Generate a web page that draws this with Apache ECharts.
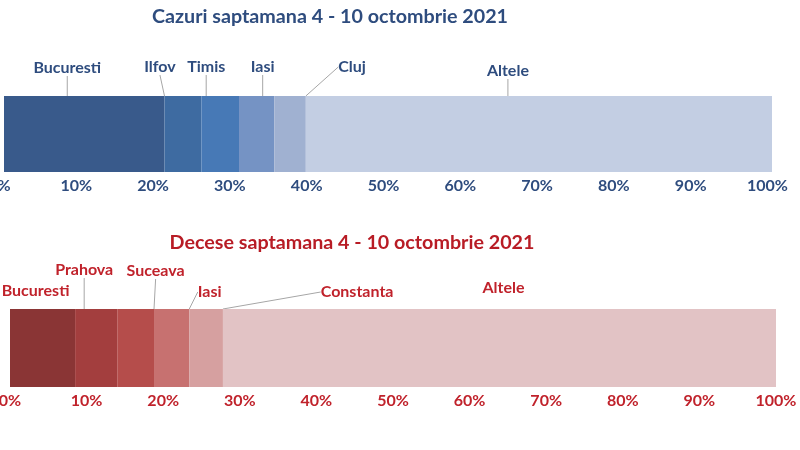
<!DOCTYPE html>
<html>
<head>
<meta charset="utf-8">
<script src="https://cdn.jsdelivr.net/npm/echarts@6/dist/echarts.min.js"></script>
<style>
  html, body { margin: 0; padding: 0; background: #fff; }
  #main { width: 800px; height: 450px; }
</style>
</head>
<body>
<div id="main"></div>
<script>
// date: ponderea judetelor, saptamana 4 - 10 octombrie 2021 (procente)
var casesRegions = ['Bucuresti', 'Ilfov', 'Timis', 'Iasi', 'Cluj', 'Altele'];
var casesShares = [20.9, 4.8, 4.9, 4.6, 4.1, 60.7];

var deathsRegions = ['Bucuresti', 'Prahova', 'Suceava', 'Iasi', 'Constanta', 'Altele'];
var deathsShares = [8.5, 5.5, 4.8, 4.6, 4.4, 72.2];

var tickValues = [0, 10, 20, 30, 40, 50, 60, 70, 80, 90, 100];

// stil
var blueText = '#2e4c7e';
var redText = '#c0222b';
var blueColors = ['#395a8b', '#3e6ba1', '#4779b6', '#7593c4', '#a0b1d1', '#c3cee3'];
var redColors = ['#8a3535', '#a33e3e', '#b54d4b', '#c77170', '#d6a0a0', '#e2c3c5'];

// deplasarea etichetelor fata de pozitia implicita (deasupra segmentului)
var casesShift = [[-17, -15], [-23, -16], [-14, -16], [6, -16], [62, -16], [-31, -12]];
var deathsShift = [[-7, -5], [-12, -26], [20, -25], [38, -4], [151, -4], [4, -8]];
var deathsLine = [false, true, true, true, true, false];

var myChart = echarts.init(document.getElementById('main'));

function makeAxis(gridIndex, color, pad) {
    return {
        type: 'value',
        gridIndex: gridIndex,
        min: tickValues[0],
        max: tickValues[tickValues.length - 1],
        interval: tickValues[1] - tickValues[0],
        axisLine: { show: false },
        axisTick: { show: false },
        splitLine: { show: false },
        axisLabel: {
            margin: 6,
            color: color,
            fontFamily: 'Lato',
            fontWeight: 'bold',
            fontSize: 16,
            padding: pad,
            showMinLabel: true,
            showMaxLabel: true,
            hideOverlap: false,
            formatter: '{value}%'
        }
    };
}

function makeSeries(names, values, colors, shifts, lines, idx, textColor) {
    return names.map(function (name, i) {
        return {
            name: name,
            type: 'bar',
            stack: 'total' + idx,
            xAxisIndex: idx,
            yAxisIndex: idx,
            barWidth: '100%',
            data: [values[i]],
            itemStyle: { color: colors[i] },
            label: {
                show: true,
                position: 'top',
                distance: 5,
                formatter: name,
                color: textColor,
                fontFamily: 'Lato',
                fontWeight: 'bold',
                fontSize: 16
            },
            labelLayout: { dx: shifts[i][0], dy: shifts[i][1] },
            labelLine: {
                show: lines ? lines[i] : true,
                lineStyle: { color: '#a6a6a6', width: 1 }
            }
        };
    });
}

var option = {
    animation: false,
    title: [{
        text: 'Cazuri saptamana 4 - 10 octombrie 2021',
        left: 330,
        top: 7,
        textAlign: 'center',
        padding: 0,
        textStyle: { color: blueText, fontFamily: 'Lato', fontWeight: 'bold', fontSize: 19.7 }
    }, {
        text: 'Decese saptamana 4 - 10 octombrie 2021',
        left: 352,
        top: 233,
        textAlign: 'center',
        padding: 0,
        textStyle: { color: '#b81c25', fontFamily: 'Lato', fontWeight: 'bold', fontSize: 19.7 }
    }],
    grid: [
        { left: 4, width: 768, top: 96, height: 76, outerBoundsMode: 'none', containLabel: false },
        { left: 10, width: 766, top: 309, height: 78, outerBoundsMode: 'none', containLabel: false }
    ],
    xAxis: [
        makeAxis(0, blueText, [0, 9, 0, 0]),
        makeAxis(1, redText, 0)
    ],
    yAxis: [
        { type: 'category', gridIndex: 0, data: ['Cazuri'], show: false },
        { type: 'category', gridIndex: 1, data: ['Decese'], show: false }
    ],
    series: makeSeries(casesRegions, casesShares, blueColors, casesShift, null, 0, blueText)
        .concat(makeSeries(deathsRegions, deathsShares, redColors, deathsShift, deathsLine, 1, redText))
};

myChart.setOption(option);
</script>
</body>
</html>
